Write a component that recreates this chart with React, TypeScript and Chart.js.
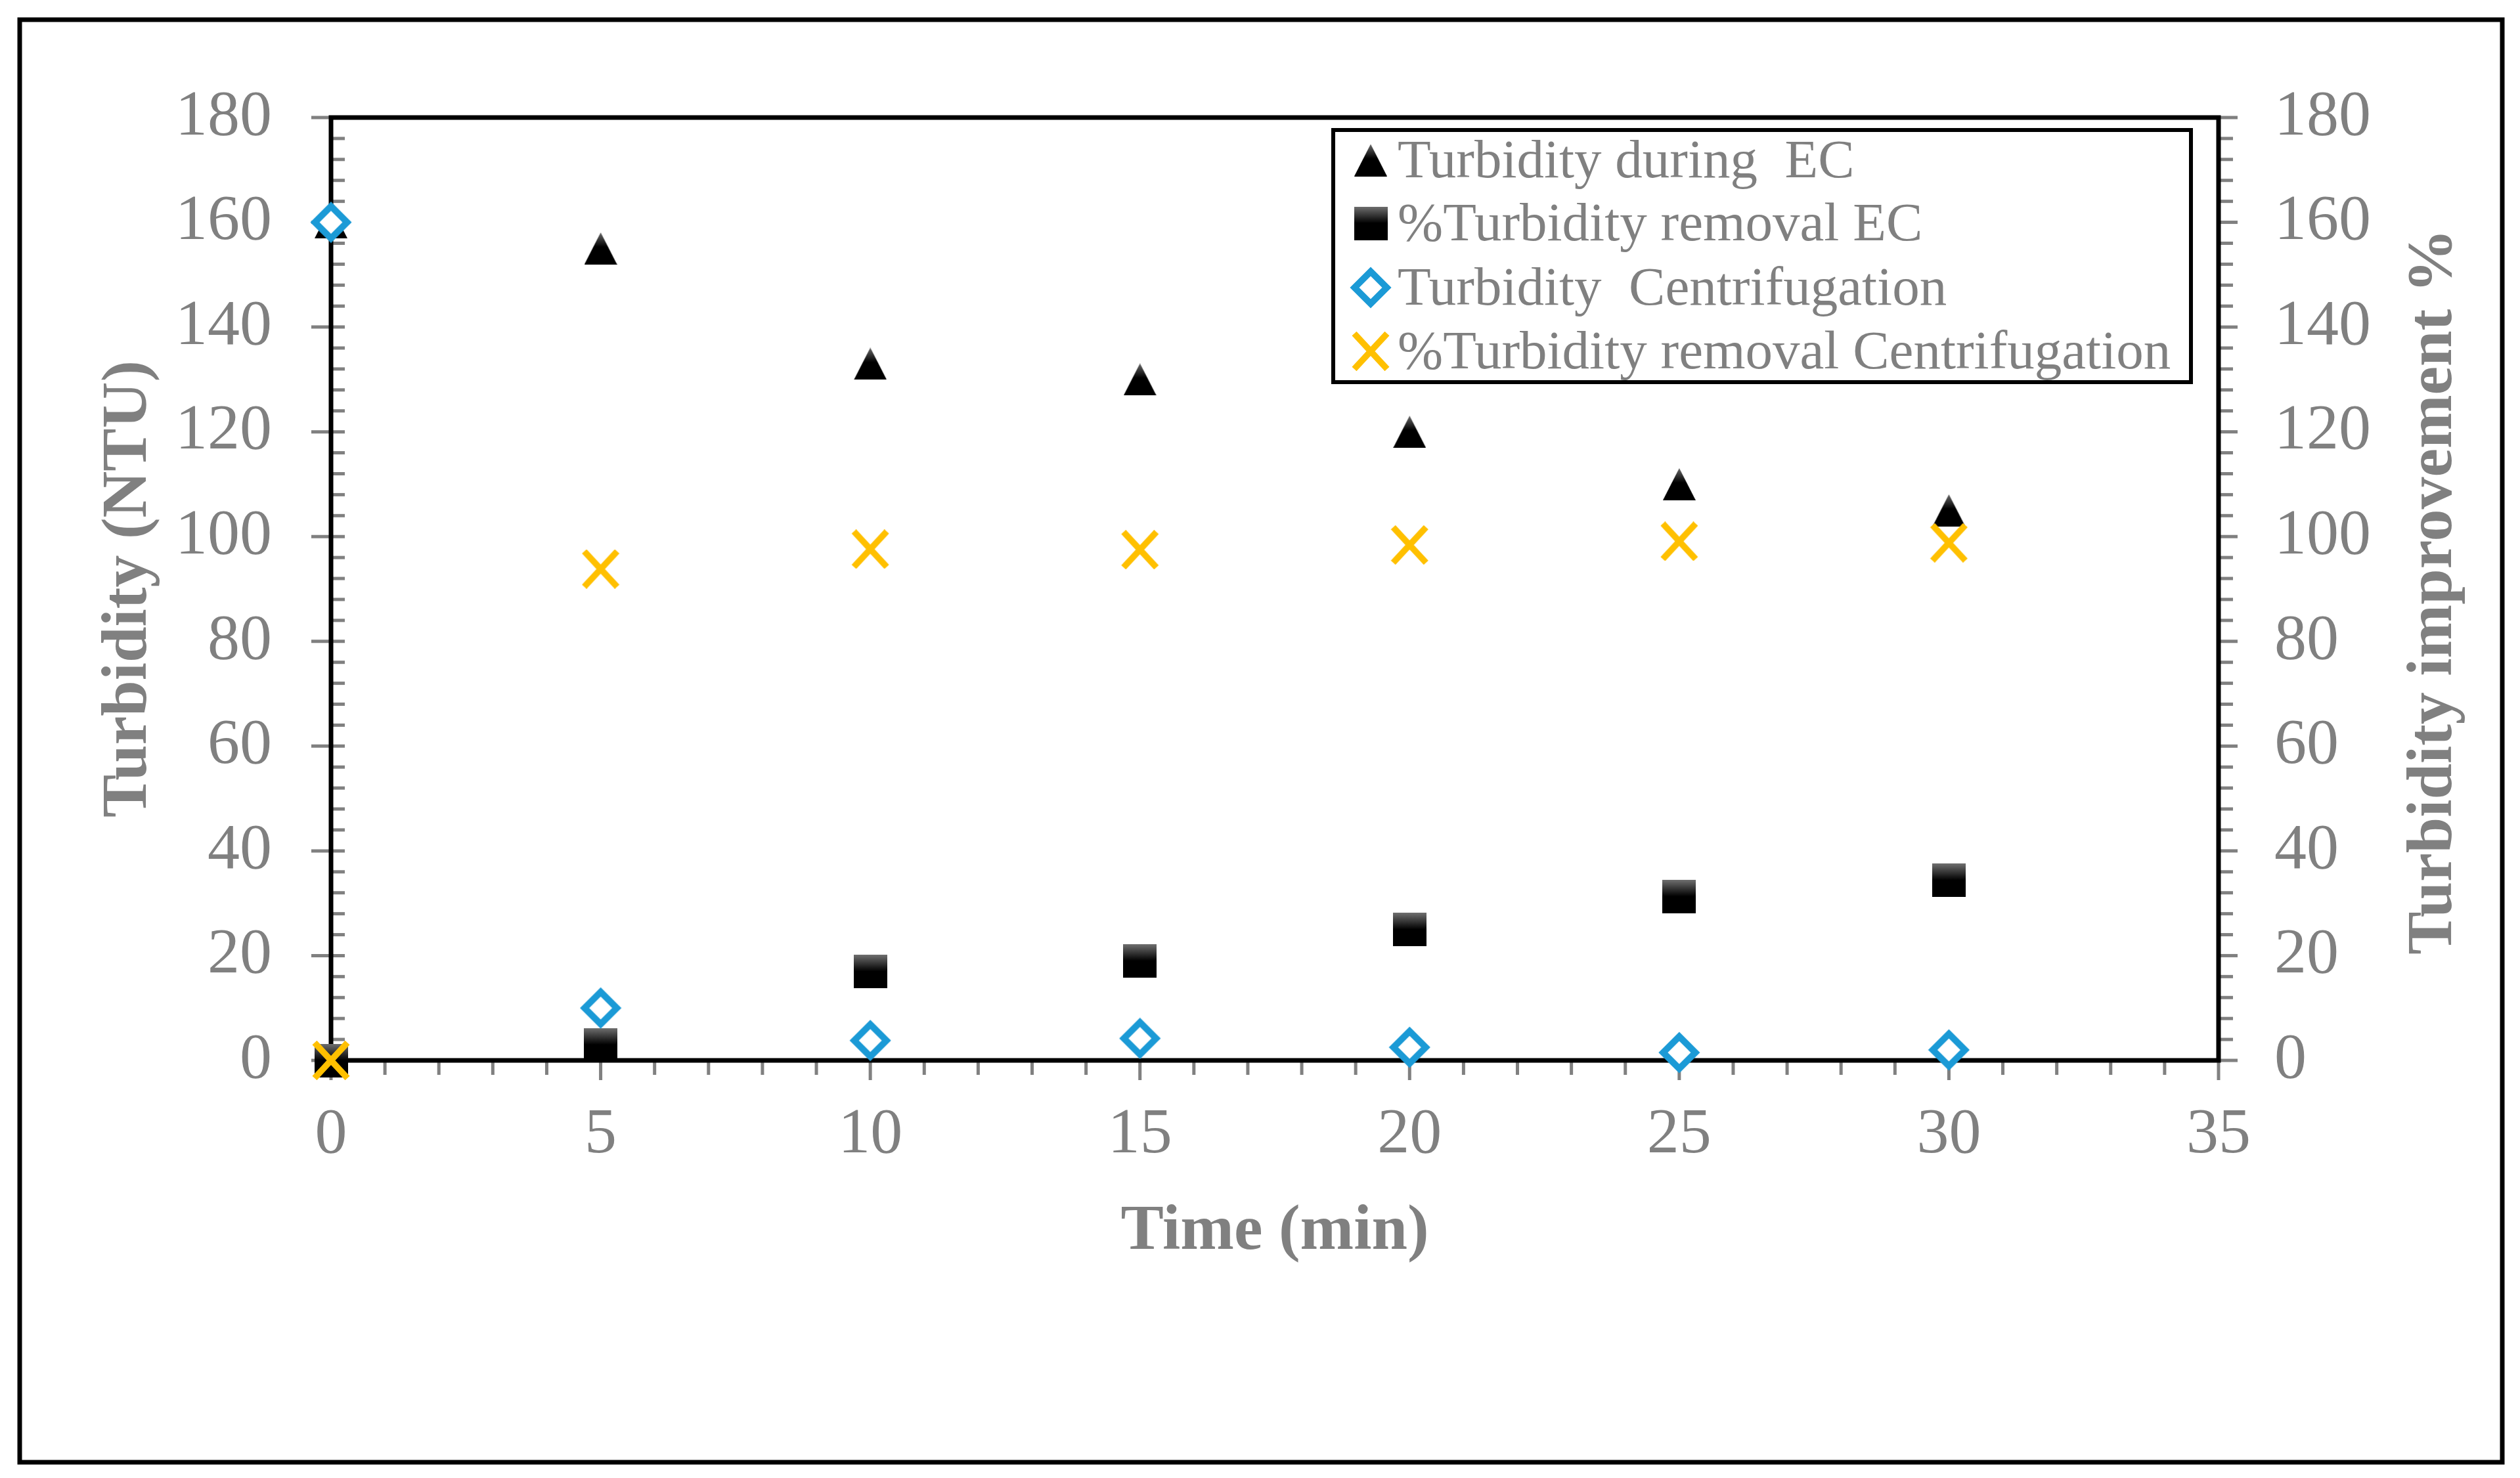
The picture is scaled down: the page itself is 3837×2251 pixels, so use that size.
import React, { useEffect, useRef } from "react";
import { Chart, registerables } from "chart.js";

Chart.register(...registerables);

// ---- data ----
const timeMin = [0, 5, 10, 15, 20, 25, 30];
const turbidityEC = [160, 155, 133, 130, 120, 110, 105];
const removalEC = [0, 3, 17, 19, 25, 31.3, 34.4];
const turbidityCent = [160, 10, 3.8, 4.2, 2.5, 1.5, 2];
const removalCent = [0, 93.8, 97.6, 97.5, 98.4, 99.1, 98.8];

const seriesLabels = [
  "Turbidity during  EC",
  "%Turbidity removal EC",
  "Turbidity  Centrifugation",
  "%Turbidity removal Centrifugation",
];
const xTitle = "Time (min)";
const yTitle = "Turbidity (NTU)";
const y2Title = "Turbidity improvement %";

const FONT = "'Liberation Serif', 'Times New Roman', serif";
const GRAY = "#808080";
const BLUE = "#1B9AD6";
const YELLOW = "#FFC000";

function makeCanvas(w: number, h: number) {
  const c = document.createElement("canvas");
  c.width = w;
  c.height = h;
  return c;
}

function makeMarkers() {
  const tri = makeCanvas(50, 49);
  {
    const g = tri.getContext("2d")!;
    const gr = g.createLinearGradient(0, 0, 0, 49);
    gr.addColorStop(0, "#6a6a6a");
    gr.addColorStop(0.45, "#000");
    gr.addColorStop(1, "#000");
    g.fillStyle = gr;
    g.beginPath();
    g.moveTo(25, 0);
    g.lineTo(50, 49);
    g.lineTo(0, 49);
    g.closePath();
    g.fill();
  }
  const sq = makeCanvas(51, 51);
  {
    const g = sq.getContext("2d")!;
    const gr = g.createLinearGradient(0, 0, 0, 51);
    gr.addColorStop(0, "#707070");
    gr.addColorStop(0.5, "#000");
    gr.addColorStop(1, "#000");
    g.fillStyle = gr;
    g.fillRect(0, 0, 51, 51);
  }
  const dia = makeCanvas(64, 64);
  {
    const g = dia.getContext("2d")!;
    g.beginPath();
    g.moveTo(32, 7.5);
    g.lineTo(56.5, 32);
    g.lineTo(32, 56.5);
    g.lineTo(7.5, 32);
    g.closePath();
    g.fillStyle = "#fff";
    g.fill();
    g.lineWidth = 10;
    g.strokeStyle = BLUE;
    g.lineJoin = "miter";
    g.stroke();
  }
  const cross = makeCanvas(58, 60);
  {
    const g = cross.getContext("2d")!;
    g.strokeStyle = YELLOW;
    g.lineWidth = 9.5;
    g.lineCap = "butt";
    g.beginPath();
    g.moveTo(4, 3);
    g.lineTo(54, 57);
    g.moveTo(54, 3);
    g.lineTo(4, 57);
    g.stroke();
  }
  return [tri, sq, dia, cross];
}

const decorPlugin = {
  id: "decor",
  beforeDraw(chart: any) {
    const { ctx, width, height } = chart;
    ctx.save();
    ctx.fillStyle = "#fff";
    ctx.fillRect(0, 0, width, height);
    ctx.strokeStyle = "#000";
    ctx.lineWidth = 7;
    ctx.strokeRect(30, 30, 3780, 2197);
    ctx.restore();
  },
  beforeDatasetsDraw(chart: any) {
    const { ctx, chartArea: a, scales } = chart;
    ctx.save();
    ctx.strokeStyle = GRAY;
    ctx.lineWidth = 5;
    for (let v = 0; v <= 180; v += 4) {
      const major = v % 20 === 0;
      const py = scales.y.getPixelForValue(v);
      ctx.beginPath();
      ctx.moveTo(major ? a.left - 30 : a.left, py);
      ctx.lineTo(a.left + 21, py);
      ctx.stroke();
      const py2 = scales.y2.getPixelForValue(v);
      ctx.beginPath();
      ctx.moveTo(a.right, py2);
      ctx.lineTo(a.right + (major ? 29 : 22), py2);
      ctx.stroke();
    }
    for (let v = 0; v <= 35; v += 1) {
      const major = v % 5 === 0;
      const px = scales.x.getPixelForValue(v);
      ctx.beginPath();
      ctx.moveTo(px, a.bottom);
      ctx.lineTo(px, a.bottom + (major ? 30 : 22));
      ctx.stroke();
    }
    ctx.strokeStyle = "#000";
    ctx.lineWidth = 7;
    ctx.strokeRect(a.left, a.top, a.right - a.left, a.bottom - a.top);

    // axis titles
    ctx.fillStyle = GRAY;
    ctx.font = `bold 98px ${FONT}`;
    ctx.textAlign = "center";
    ctx.textBaseline = "alphabetic";
    const cx = (a.left + a.right) / 2;
    const cy = (a.top + a.bottom) / 2;
    ctx.fillText(xTitle, cx, 1902);
    ctx.save();
    ctx.translate(222, cy);
    ctx.rotate(-Math.PI / 2);
    ctx.fillText(yTitle, 0, 0);
    ctx.restore();
    ctx.save();
    ctx.translate(3732, cy + 4);
    ctx.rotate(-Math.PI / 2);
    ctx.fillText(y2Title, 0, 0);
    ctx.restore();
    ctx.restore();
  },
  afterDraw(chart: any) {
    const { ctx } = chart;
    ctx.save();
    ctx.fillStyle = "#fff";
    ctx.fillRect(2030, 198, 1306, 384);
    ctx.strokeStyle = "#000";
    ctx.lineWidth = 6;
    ctx.strokeRect(2030, 198, 1306, 384);
    const rows = [244, 340, 438, 535];
    ctx.font = `83px ${FONT}`;
    ctx.fillStyle = GRAY;
    ctx.textAlign = "left";
    ctx.textBaseline = "alphabetic";
    chart.data.datasets.forEach((ds: any, i: number) => {
      const img = ds.pointStyle as HTMLCanvasElement;
      const y = rows[i];
      ctx.drawImage(img, 2087 - img.width / 2, y - img.height / 2);
      ctx.fillText(ds.label, 2128, y + 26);
    });
    ctx.restore();
  },
};

export default function App() {
  const ref = useRef<HTMLCanvasElement>(null);
  useEffect(() => {
    if (!ref.current) return;
    const [tri, sq, dia, cross] = makeMarkers();
    const pts = (ys: number[]) => timeMin.map((x, i) => ({ x, y: ys[i] }));
    const tickFont = { family: FONT, size: 98 };
    const chart = new Chart(ref.current, {
      type: "scatter",
      data: {
        datasets: [
          { label: seriesLabels[0], data: pts(turbidityEC), yAxisID: "y", pointStyle: tri as any, pointRadius: 5, order: 4, clip: false as any },
          { label: seriesLabels[1], data: pts(removalEC), yAxisID: "y2", pointStyle: sq as any, pointRadius: 5, order: 3, clip: false as any },
          { label: seriesLabels[2], data: pts(turbidityCent), yAxisID: "y", pointStyle: dia as any, pointRadius: 5, order: 2, clip: false as any },
          { label: seriesLabels[3], data: pts(removalCent), yAxisID: "y2", pointStyle: cross as any, pointRadius: 5, order: 1, clip: false as any },
        ],
      },
      options: {
        responsive: false,
        animation: false,
        devicePixelRatio: 1,
        layout: { padding: { top: 179, left: 0, right: 0, bottom: 0 } },
        plugins: { legend: { display: false }, tooltip: { enabled: false } },
        events: [],
        scales: {
          x: {
            type: "linear",
            min: 0,
            max: 35,
            ticks: { stepSize: 5, font: tickFont, color: GRAY, padding: 55, maxRotation: 0 },
            grid: { display: false, drawTicks: false },
            border: { display: false },
            afterFit: (s: any) => { s.height = 636; },
          },
          y: {
            type: "linear",
            position: "left",
            min: 0,
            max: 180,
            ticks: { stepSize: 20, font: tickFont, color: GRAY, padding: 90 },
            grid: { display: false, drawTicks: false },
            border: { display: false },
            afterFit: (s: any) => { s.width = 504; },
          },
          y2: {
            type: "linear",
            position: "right",
            min: 0,
            max: 180,
            ticks: { stepSize: 20, font: tickFont, color: GRAY, padding: 85 },
            grid: { display: false, drawTicks: false },
            border: { display: false },
            afterFit: (s: any) => { s.width = 459; },
          },
        },
      } as any,
      plugins: [decorPlugin],
    });
    return () => chart.destroy();
  }, []);
  return (
    <div style={{ position: "fixed", left: 0, top: 0, width: 3837, height: 2251, background: "#fff" }}>
      <canvas ref={ref} width={3837} height={2251} />
    </div>
  );
}
